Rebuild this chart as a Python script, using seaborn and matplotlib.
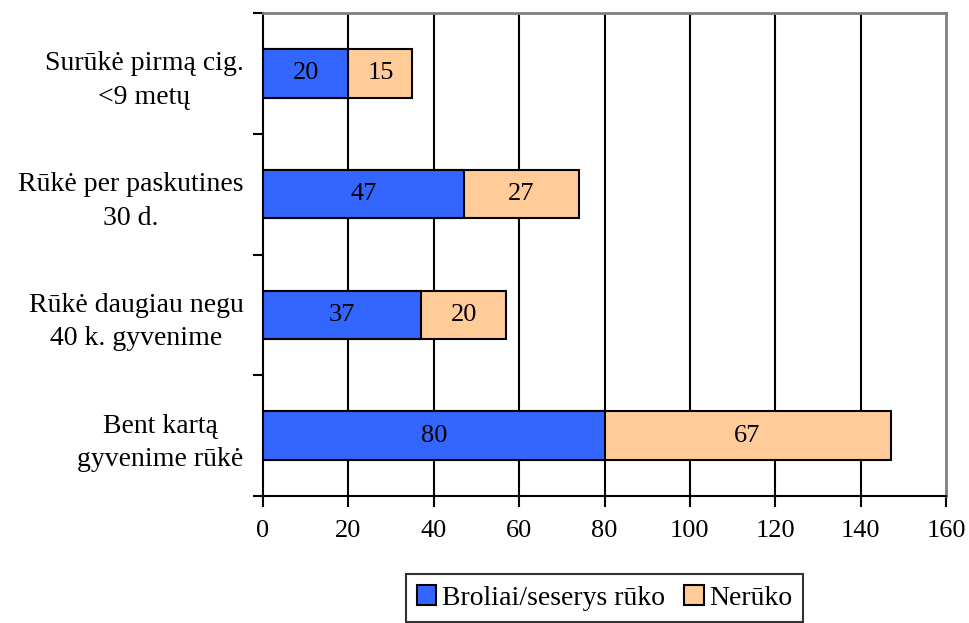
import matplotlib
matplotlib.use("Agg")
import matplotlib.pyplot as plt
import seaborn as sns
import pandas as pd
import numpy as np
from matplotlib.patches import Patch

categories = [
    "Surūkė pirmą cig.\n<9 metų",
    "Rūkė per paskutines\n30 d.",
    "Rūkė daugiau negu\n40 k. gyvenime",
    "Bent kartą\ngyvenime rūkė",
]
smoking_siblings = [20, 47, 37, 80]
non_smoking = [15, 27, 20, 67]
series_names = ["Broliai/seserys rūko", "Nerūko"]
x_ticks = [0, 20, 40, 60, 80, 100, 120, 140, 160]

blue = "#3366FF"
peach = "#FFCC99"

sns.set_theme(style="white")
plt.rcParams["font.family"] = ["Liberation Serif", "DejaVu Serif"]
plt.rcParams["text.color"] = "black"
plt.rcParams["xtick.color"] = "black"
plt.rcParams["ytick.color"] = "black"
plt.rcParams["axes.labelcolor"] = "black"

TEXT_SIZE = 20
NUM_SIZE = 19

df = pd.DataFrame({
    "category": categories,
    "blue": smoking_siblings,
    "total": np.array(smoking_siblings) + np.array(non_smoking),
})

fig = plt.figure(figsize=(9.69, 6.23), dpi=100)
ax = fig.add_axes([263 / 969, 1 - 496 / 623, (946 - 263) / 969, (496 - 13) / 623])

for x in x_ticks[1:-1]:
    ax.axvline(x, color="black", lw=1.5, zorder=0)

sns.barplot(data=df, y="category", x="total", color=peach, orient="h",
            width=0.4, edgecolor="black", linewidth=1.5, saturation=1, ax=ax, zorder=2)
sns.barplot(data=df, y="category", x="blue", color=blue, orient="h",
            width=0.4, edgecolor="black", linewidth=1.5, saturation=1, ax=ax, zorder=3)

for i, (b, n) in enumerate(zip(smoking_siblings, non_smoking)):
    ax.text(b / 2, i, str(b), ha="center", va="center", fontsize=NUM_SIZE, zorder=4)
    ax.text(b + n / 2, i, str(n), ha="center", va="center", fontsize=NUM_SIZE, zorder=4)

ax.set_xlim(0, 160)
ax.set_ylim(len(categories) - 0.5, -0.5)
ax.set_xticks(x_ticks)
ax.set_xticklabels([str(v) for v in x_ticks], fontsize=NUM_SIZE)
ax.set_yticks(range(len(categories)))
ax.set_yticklabels(categories, fontsize=TEXT_SIZE, multialignment="center", linespacing=1.45)
ax.set_yticks(np.arange(-0.5, len(categories), 1), minor=True)
ax.tick_params(axis="y", which="major", length=0, pad=14)
ax.tick_params(axis="y", which="minor", length=7, width=1.5, color="black", left=True)
ax.tick_params(axis="x", which="major", length=8, width=1.5, color="black", pad=9, bottom=True)
ax.set_xlabel("")
ax.set_ylabel("")

for side in ["left", "bottom"]:
    ax.spines[side].set_color("black")
    ax.spines[side].set_linewidth(1.5)
for side in ["top", "right"]:
    ax.spines[side].set_color("#808080")
    ax.spines[side].set_linewidth(2)

handles = [Patch(facecolor=blue, edgecolor="black", linewidth=1.5),
           Patch(facecolor=peach, edgecolor="black", linewidth=1.5)]
leg = fig.legend(handles, series_names, loc="center", bbox_to_anchor=(604.5 / 969, 1 - 598 / 623),
                 ncol=2, frameon=True, fancybox=False, edgecolor="black", fontsize=TEXT_SIZE,
                 handlelength=0.7, handleheight=0.7, handletextpad=0.2, columnspacing=0.7,
                 borderpad=0.4, borderaxespad=0)
leg.get_frame().set_linewidth(1.5)

fig.savefig("out.png", dpi=100, facecolor="white")
